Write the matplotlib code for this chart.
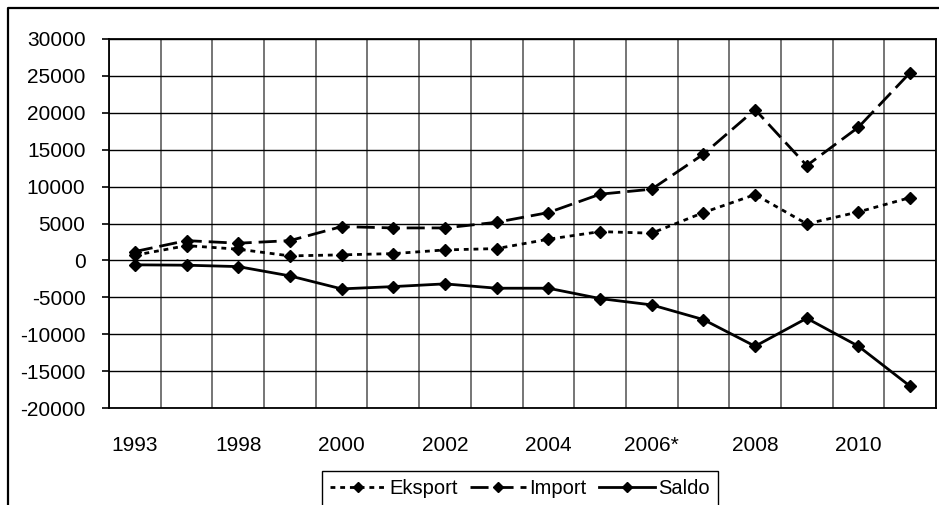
import matplotlib
matplotlib.use("Agg")
import matplotlib.pyplot as plt
from matplotlib.lines import Line2D
import numpy as np

plt.rcParams['font.family'] = ['Liberation Sans', 'DejaVu Sans']
plt.rcParams['lines.scale_dashes'] = False

# Categories (only every other one is labelled on the axis)
years = ['1993', '1995', '1998', '1999', '2000', '2001', '2002', '2003',
         '2004', '2005', '2006*', '2007', '2008', '2009', '2010', '2011']

eksport = [700, 2000, 1520, 610, 750, 920, 1420, 1600,
           2870, 3900, 3690, 6480, 8920, 4950, 6570, 8510]
import_ = [1200, 2680, 2330, 2680, 4580, 4400, 4400, 5170,
           6480, 8970, 9650, 14390, 20430, 12850, 18050, 25450]
saldo = [-600, -650, -840, -2100, -3860, -3550, -3180, -3770,
         -3770, -5170, -6030, -8020, -11630, -7840, -11630, -17050]

y_ticks = list(range(-20000, 30001, 5000))

W, H = 939, 505
fig = plt.figure(figsize=(W / 100, H / 100), dpi=100)
ax = fig.add_axes([109 / W, 1 - 408 / H, (936 - 109) / W, (408 - 39) / H])

x = np.arange(len(years))
mk = dict(marker='D', markersize=6.3, markerfacecolor='black',
          markeredgecolor='black', color='black', linewidth=2.0)

ax.plot(x, eksport, linestyle=(0, (3.5, 3.5)), label='Eksport', **mk)
ax.plot(x, import_, linestyle=(0, (13, 5)), label='Import', **mk)
ax.plot(x, saldo, linestyle='-', label='Saldo', **mk)

ax.set_xlim(-0.5, len(years) - 0.5)
ax.set_ylim(-20000, 30000)

# category labels on every second category, grid between categories
ax.set_xticks(x[::2])
ax.set_xticklabels(years[::2])
ax.set_xticks(np.arange(-0.5, len(years), 1.0), minor=True)
ax.tick_params(axis='x', which='major', length=0, pad=20, labelsize=15)
ax.tick_params(axis='x', which='minor', length=0)
ax.grid(True, axis='x', which='minor', color='#6a6a6a', linewidth=1.3)

ax.set_yticks(y_ticks)
ax.set_yticklabels([str(v) for v in y_ticks])
ax.tick_params(axis='y', which='major', length=5, width=1.2, direction='out',
               pad=12, labelsize=15)
ax.grid(True, axis='y', which='major', color='black', linewidth=1.0)
ax.set_axisbelow(True)

for s in ax.spines.values():
    s.set_color('black')
    s.set_linewidth(1.3)

leg = fig.legend(loc='upper left', bbox_to_anchor=(322 / W, 1 - 471 / H),
                 ncol=3, fontsize=14.5, frameon=True, fancybox=False,
                 edgecolor='black', framealpha=1, borderaxespad=0,
                 handlelength=2.8, handletextpad=0.15, columnspacing=0.6,
                 borderpad=0.4, markerscale=0.75)
leg.get_frame().set_linewidth(1.0)

# outer chart frame
fig.add_artist(Line2D([8 / W, 8 / W, 1.0], [0.0, 1 - 8 / H, 1 - 8 / H],
                      transform=fig.transFigure, color='black', linewidth=1.6))

fig.savefig('out.png', dpi=100)
